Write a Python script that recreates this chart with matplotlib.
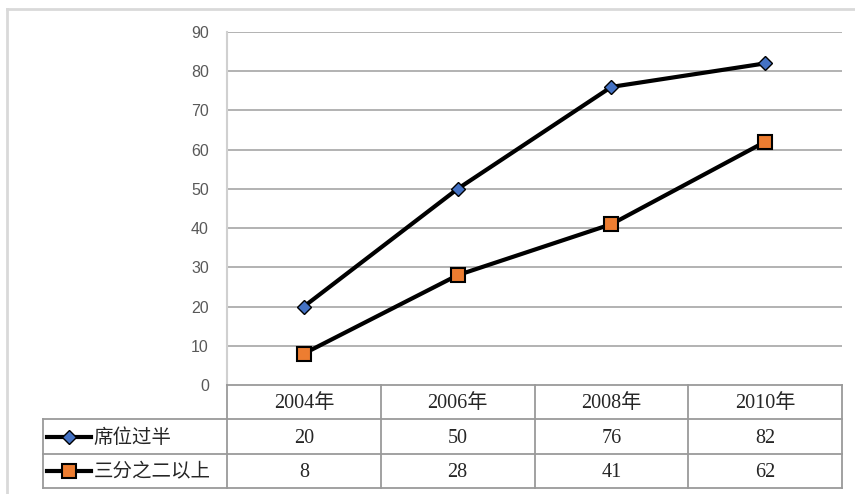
import matplotlib
matplotlib.use("Agg")
import matplotlib.pyplot as plt
from matplotlib.lines import Line2D

plt.rcParams['font.family'] = ['Liberation Serif', 'Noto Sans CJK SC', 'DejaVu Sans']

years = ['2004年', '2006年', '2008年', '2010年']
series_names = ['席位过半', '三分之二以上']
majority = [20, 50, 76, 82]
two_thirds = [8, 28, 41, 62]
y_ticks = [0, 10, 20, 30, 40, 50, 60, 70, 80, 90]

W, H = 855, 494
fig = plt.figure(figsize=(W / 100, H / 100), dpi=100)


def px_box(x0, y0, x1, y1):
    return [x0 / W, 1 - y1 / H, (x1 - x0) / W, (y1 - y0) / H]


grid_col = '#a6a6a6'
line_col = '#9a9a9a'

# outer chart frame (top and left edges)
fig.add_artist(Line2D([7 / W, 7 / W], [0, 1 - 9 / H], transform=fig.transFigure,
                      color='#d9d9d9', lw=2))
fig.add_artist(Line2D([7 / W, 1], [1 - 9 / H, 1 - 9 / H], transform=fig.transFigure,
                      color='#d9d9d9', lw=2))

# main plot area
ax = fig.add_axes(px_box(227, 32, 842, 385))
xs = [i + 0.5 for i in range(len(years))]
ax.set_xlim(0, len(years))
ax.set_ylim(0, 90)
ax.set_yticks(y_ticks)
ax.set_yticklabels([str(v) for v in y_ticks], family='Liberation Sans',
                   fontsize=11.5, color='#595959')
ax.tick_params(axis='y', length=0, pad=13)
ax.set_xticks([])
for v in y_ticks[1:]:
    ax.axhline(v, color=grid_col, lw=1.2, zorder=1)
for side in ['top', 'right', 'bottom']:
    ax.spines[side].set_visible(False)
ax.spines['left'].set_color('#d0d0d0')
ax.spines['left'].set_linewidth(1.5)

ax.plot(xs, majority, color='black', lw=3, marker='D', markersize=7,
        markerfacecolor='#4472c4', markeredgecolor='black', markeredgewidth=1,
        zorder=3)
ax.plot(xs, two_thirds, color='black', lw=3, marker='s', markersize=10,
        markerfacecolor='#ed7d31', markeredgecolor='black', markeredgewidth=1.5,
        zorder=3)

# data table under the plot, sharing the category columns
tab = fig.add_axes(px_box(43, 385, 842, 488))
legend_w = (227 - 43) / ((842 - 227) / len(years))
tab.set_xlim(-legend_w, len(years))
tab.set_ylim(3, 0)
tab.axis('off')

tc = dict(color=line_col, lw=1.3, clip_on=False)
# header row spans only the category columns
tab.plot([0, len(years)], [0, 0], **tc)
for i in range(len(years) + 1):
    tab.plot([i, i], [0, 3], **tc)
tab.plot([-legend_w, -legend_w], [1, 3], **tc)
for r in [1, 2, 3]:
    tab.plot([-legend_w, len(years)], [r, r], **tc)

for i, y in enumerate(years):
    tab.text(i + 0.5, 0.55, y, ha='center', va='center', fontsize=14.5,
             color='#262626')
for row, vals in [(1, majority), (2, two_thirds)]:
    for i, v in enumerate(vals):
        tab.text(i + 0.5, row + 0.55, str(v), ha='center', va='center',
                 fontsize=14.5, color='#262626')

# legend keys inside the table
kx0, kx1 = -legend_w + 0.025, -legend_w + 0.315
tab.plot([kx0, kx1], [1.5, 1.5], color='black', lw=3, clip_on=False)
tab.plot([(kx0 + kx1) / 2], [1.5], marker='D', markersize=7,
         markerfacecolor='#4472c4', markeredgecolor='black', clip_on=False)
tab.plot([kx0, kx1], [2.5, 2.5], color='black', lw=3, clip_on=False)
tab.plot([(kx0 + kx1) / 2], [2.5], marker='s', markersize=10,
         markerfacecolor='#ed7d31', markeredgecolor='black', markeredgewidth=1.5,
         clip_on=False)
for row, name in [(1, series_names[0]), (2, series_names[1])]:
    tab.text(kx1 + 0.015, row + 0.52, name, ha='left', va='center', fontsize=14,
             family=['Noto Sans CJK SC'], color='#262626')

fig.savefig('out.png', dpi=100)
